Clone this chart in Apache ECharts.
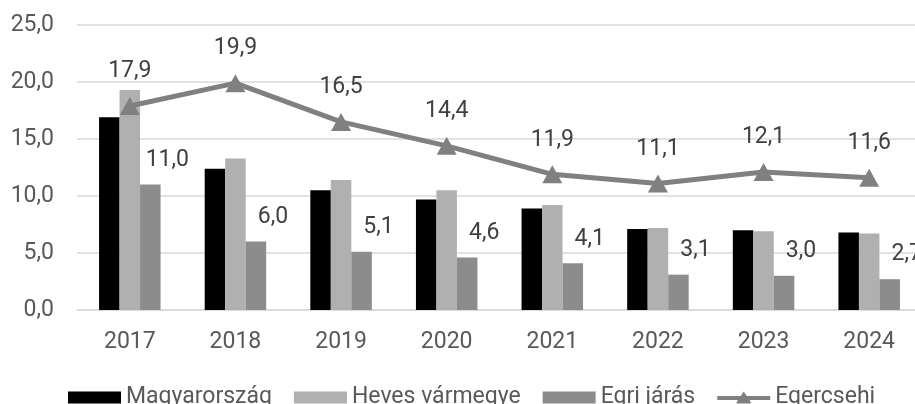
<!DOCTYPE html>
<html>
<head>
<meta charset="utf-8">
<script src="https://cdn.jsdelivr.net/npm/echarts@6/dist/echarts.min.js"></script>
<style>
  html, body { margin: 0; padding: 0; background: #fff; }
  #chart { width: 915px; height: 404px; }
</style>
</head>
<body>
<div id="chart"></div>
<script>
// adatok
var years = ['2017', '2018', '2019', '2020', '2021', '2022', '2023', '2024'];
var magyarorszag = [16.9, 12.4, 10.5, 9.7, 8.9, 7.1, 7.0, 6.8];
var heves = [19.3, 13.3, 11.4, 10.5, 9.2, 7.2, 6.9, 6.7];
var egri = [11.0, 6.0, 5.1, 4.6, 4.1, 3.1, 3.0, 2.7];
var egercsehi = [17.9, 19.9, 16.5, 14.4, 11.9, 11.1, 12.1, 11.6];

function fmt(v) {
  return Number(v).toFixed(1).replace('.', ',');
}

document.addEventListener('DOMContentLoaded', function () {
  var chart = echarts.init(document.getElementById('chart'));

  var font = 'Roboto, sans-serif';
  // vonal + haromszog a jelmagyarazatba
  var lineIcon = 'path://M0,4.5 L23.4,4.5 L26.5,0 L29.6,4.5 L53,4.5 L53,8.5 L32.4,8.5 L34,12 L19,12 L20.6,8.5 L0,8.5 Z';

  var option = {
    animation: false,
    textStyle: { fontFamily: font },
    grid: {
      left: 77,
      top: 25,
      width: 845,
      height: 285,
      outerBoundsMode: 'none'
    },
    legend: {
      left: 63,
      top: 381,
      itemWidth: 53,
      itemHeight: 12,
      itemGap: 22,
      textStyle: { fontSize: 23, color: '#595959', fontFamily: font },
      data: [
        { name: 'Magyarország', icon: 'rect' },
        { name: 'Heves vármegye', icon: 'rect' },
        { name: 'Egri járás', icon: 'rect' },
        { name: 'Egercsehi', icon: lineIcon }
      ]
    },
    xAxis: {
      type: 'category',
      data: years,
      axisLine: { lineStyle: { color: '#d9d9d9', width: 1.5 } },
      axisTick: { show: false },
      axisLabel: { fontSize: 23, color: '#595959', margin: 21 }
    },
    yAxis: {
      type: 'value',
      min: 0,
      max: 25,
      interval: 5,
      axisLine: { show: false },
      axisTick: { show: false },
      splitLine: { lineStyle: { color: '#d9d9d9', width: 1.5 } },
      axisLabel: {
        fontSize: 23,
        color: '#595959',
        margin: 23,
        formatter: fmt
      }
    },
    series: [
      {
        name: 'Magyarország',
        type: 'bar',
        data: magyarorszag,
        barWidth: 20.5,
        barGap: '0%',
        itemStyle: { color: '#000000' }
      },
      {
        name: 'Heves vármegye',
        type: 'bar',
        data: heves,
        barWidth: 20.5,
        barGap: '0%',
        itemStyle: { color: '#b0b0b0' }
      },
      {
        name: 'Egri járás',
        type: 'bar',
        data: egri,
        barWidth: 20.5,
        barGap: '0%',
        itemStyle: { color: '#8c8c8c' },
        label: {
          show: true,
          position: 'top',
          offset: [17, -8],
          fontSize: 23,
          color: '#404040',
          formatter: function (p) { return fmt(p.value); }
        }
      },
      {
        name: 'Egercsehi',
        type: 'line',
        data: egercsehi,
        z: 5,
        symbol: 'triangle',
        symbolSize: [20, 18],
        lineStyle: { color: '#808080', width: 5 },
        itemStyle: { color: '#808080' },
        label: {
          show: true,
          position: 'top',
          distance: 14,
          fontSize: 23,
          color: '#404040',
          formatter: function (p) { return fmt(p.value); }
        }
      }
    ]
  };

  chart.setOption(option);
});
</script>
</body>
</html>
